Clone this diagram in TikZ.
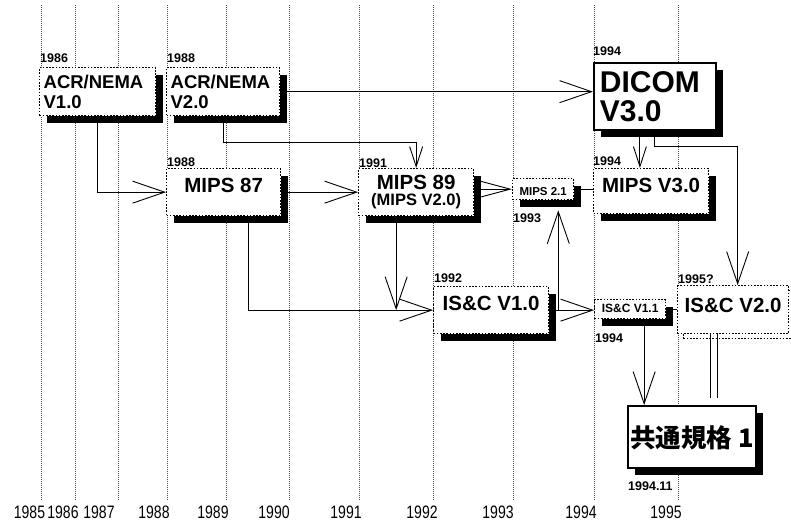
\documentclass[tikz,border=0pt]{standalone}
\usepackage{fontspec}
\setmainfont{Liberation Sans}
\newfontfamily\cjkfont{Noto Sans CJK JP}
\newfontfamily\axisfamily[FakeStretch=0.78]{Liberation Sans}
\usepackage{tikz}
\usetikzlibrary{arrows.meta,positioning,shadows,calc}
\newcommand{\fYr}{\bfseries\fontsize{12.5}{13}\selectfont}
\newcommand{\fAx}{\axisfamily\fontsize{18}{18}\selectfont}
\newcommand{\fBig}{\bfseries\fontsize{20.5}{21}\selectfont}
\newcommand{\fAcr}{\bfseries\fontsize{18.5}{20}\selectfont}
\newcommand{\fDicom}{\bfseries\fontsize{30}{29}\selectfont}
\newcommand{\fSub}{\fontsize{16.5}{16}\selectfont}
\tikzset{
  boxbase/.style={draw=black,line width=1.3pt,dash pattern=on 1.6pt off 1.6pt,fill=white,
              inner sep=0pt,anchor=north west},
  stdbox/.style={boxbase,drop shadow={shadow xshift=7pt,shadow yshift=-7pt,fill=black,opacity=1}},
  solidbox/.style={stdbox,solid,line width=1.8pt},
  openbox/.style={boxbase,drop shadow={shadow xshift=6pt,shadow yshift=-5pt,fill=white,draw=black,opacity=1}},
  yrlab/.style={font=\fYr,inner sep=0pt},
  axlab/.style={font=\fAx,inner sep=0pt},
  gridln/.style={black!70,line width=0.6pt,dash pattern=on 1pt off 1pt},
  conn/.style={-{Straight Barb[length=32pt,width=22pt]},line width=0.9pt},
  connshort/.style={-{Straight Barb[length=20pt,width=13pt]},line width=0.9pt},
  link/.style={line width=0.9pt},
}

\begin{document}
\begin{tikzpicture}[x=1pt,y=-1pt]
  \useasboundingbox (0,0) rectangle (791,525);
  \clip (0,0) rectangle (791,525);

  % year grid
  \foreach \gx in {41,75,118,167,226,289,359,433,513,594,678}
    \draw[gridln] (\gx,5) -- (\gx,500);
  \foreach \yr/\lx in {1985/29.5,1986/63,1987/99,1988/154,1989/213,1990/274,1991/346,1992/422,1993/498,1994/581,1995/666}
    \node[axlab] (ax\yr) at (\lx,512) {\yr};

  % standards
  \node[stdbox,inner xsep=4pt,text width=108pt,minimum height=48pt,align=left,font=\fAcr] (acrone) at (39,67) {ACR/NEMA\\V1.0};
  \node[stdbox,inner xsep=4pt,text width=105pt,minimum height=48pt,align=left,font=\fAcr] (acrtwo) at (166,67) {ACR/NEMA\\V2.0};
  \node[solidbox,inner xsep=6pt,text width=110pt,minimum height=67pt,align=left,font=\fDicom] (dicom) at (593,62) {DICOM\\V3.0};
  \node[stdbox,minimum width=114pt,text height=24pt,text depth=23pt,font=\fBig] (mipse) at (166,168) {MIPS 87};
  \node[stdbox,minimum width=115pt,minimum height=47pt,align=center,font=\bfseries\fontsize{20.5}{16}\selectfont] (mipsnn) at (358,168) {MIPS 89\\{\fSub(MIPS V2.0)}};
  \node[stdbox,minimum width=61pt,text height=17pt,text depth=4pt,font=\bfseries\fontsize{11.5}{12}\selectfont] (mipstwo) at (512,178) {MIPS 2.1};
  \node[stdbox,minimum width=115pt,text height=24pt,text depth=21pt,font=\fBig] (mipsv) at (593,168) {MIPS V3.0\hspace{6pt}};
  \node[stdbox,minimum width=115pt,text height=24pt,text depth=23pt,font=\fBig] (iscone) at (433,286) {IS\&C V1.0};
  \node[stdbox,minimum width=71pt,text height=13pt,text depth=6pt,font=\bfseries\fontsize{12}{13}\selectfont] (isconeone) at (594,299) {IS\&C V1.1};
  \node[openbox,minimum width=111pt,text height=27pt,text depth=21pt,font=\fBig] (iscvtwo) at (677,285) {IS\&C V2.0\hspace{5pt}};
  \node[solidbox,minimum width=128pt,text height=42pt,text depth=20pt,font=\cjkfont\bfseries\fontsize{25.5}{26}\selectfont] (kyotsu) at (627,405) {共通規格 1};

  % dates
  \node[yrlab,above right=4pt and 1pt of acrone.north west] (yacrone) {1986};
  \node[yrlab,above right=4pt and 1pt of acrtwo.north west] (yacrtwo) {1988};
  \node[yrlab,above right=6pt and 0pt of dicom.north west] (ydicom) {1994};
  \node[yrlab,above right=1pt and 1pt of mipse.north west] (ymipse) {1988};
  \node[yrlab,above right=0pt and 1pt of mipsnn.north west] (ymipsnn) {1991};
  \node[yrlab,above right=2pt and 0pt of mipsv.north west] (ymipsv) {1994};
  \node[yrlab,above right=3pt and 1pt of iscone.north west] (yiscone) {1992};
  \node[yrlab,above right=1pt and 1pt of iscvtwo.north west] (yiscvtwo) {1995?};
  \node[yrlab,below right=13pt and 1pt of mipstwo.south west] (ymipstwo) {1993};
  \node[yrlab,below right=14pt and 1pt of isconeone.south west] (yisconeone) {1994};
  \node[yrlab,below right=13pt and 1pt of kyotsu.south west] (ykyotsu) {1994.11};

  % derivations
  \draw[conn] (acrone.south) |- (mipse.west);
  \draw[conn] (acrtwo.east) -- (acrtwo.east -| dicom.west);
  \draw[connshort] (acrtwo.south) -- ++(0,26) -| (mipsnn.north);
  \draw[conn] (mipse.east) -- (mipsnn.west);
  \draw[conn,-{Straight Barb[length=30pt,width=16pt]}] (mipsnn.east |- mipstwo.west) -- (mipstwo.west);
  \draw[conn] ([xshift=25pt]mipse.south) |- (iscone.west);
  \draw[conn] ([xshift=-20pt]mipsnn.south) -- ([xshift=-20pt]mipsnn.south |- iscone.west);
  \draw[conn] ([xshift=9pt]iscone.east) -- ([xshift=9pt,yshift=-10pt]iscone.east |- mipstwo.south);
  \draw[conn] (iscone.east) -- (iscone.east -| isconeone.west);
  \draw[link] (mipstwo.east) -- (mipstwo.east -| mipsv.west);
  \draw[link] (isconeone.east) -- (isconeone.east -| iscvtwo.west);
  \draw[connshort] ([xshift=-15pt]dicom.south) -- ([xshift=-15pt]dicom.south |- mipsv.north);
  \draw[conn] (dicom.south) -- ++(0,16) -| ([xshift=4.5pt]iscvtwo.north);
  \draw[conn] ([xshift=14pt]isconeone.south) -- ([xshift=14pt]isconeone.south |- kyotsu.north);
  % double tie
  \draw[link,shorten >=7pt] ([xshift=-23pt]iscvtwo.south) -- ([xshift=-23pt]iscvtwo.south |- kyotsu.north);
  \draw[link,shorten >=7pt] ([xshift=-16pt]iscvtwo.south) -- ([xshift=-16pt]iscvtwo.south |- kyotsu.north);
\end{tikzpicture}
\end{document}
